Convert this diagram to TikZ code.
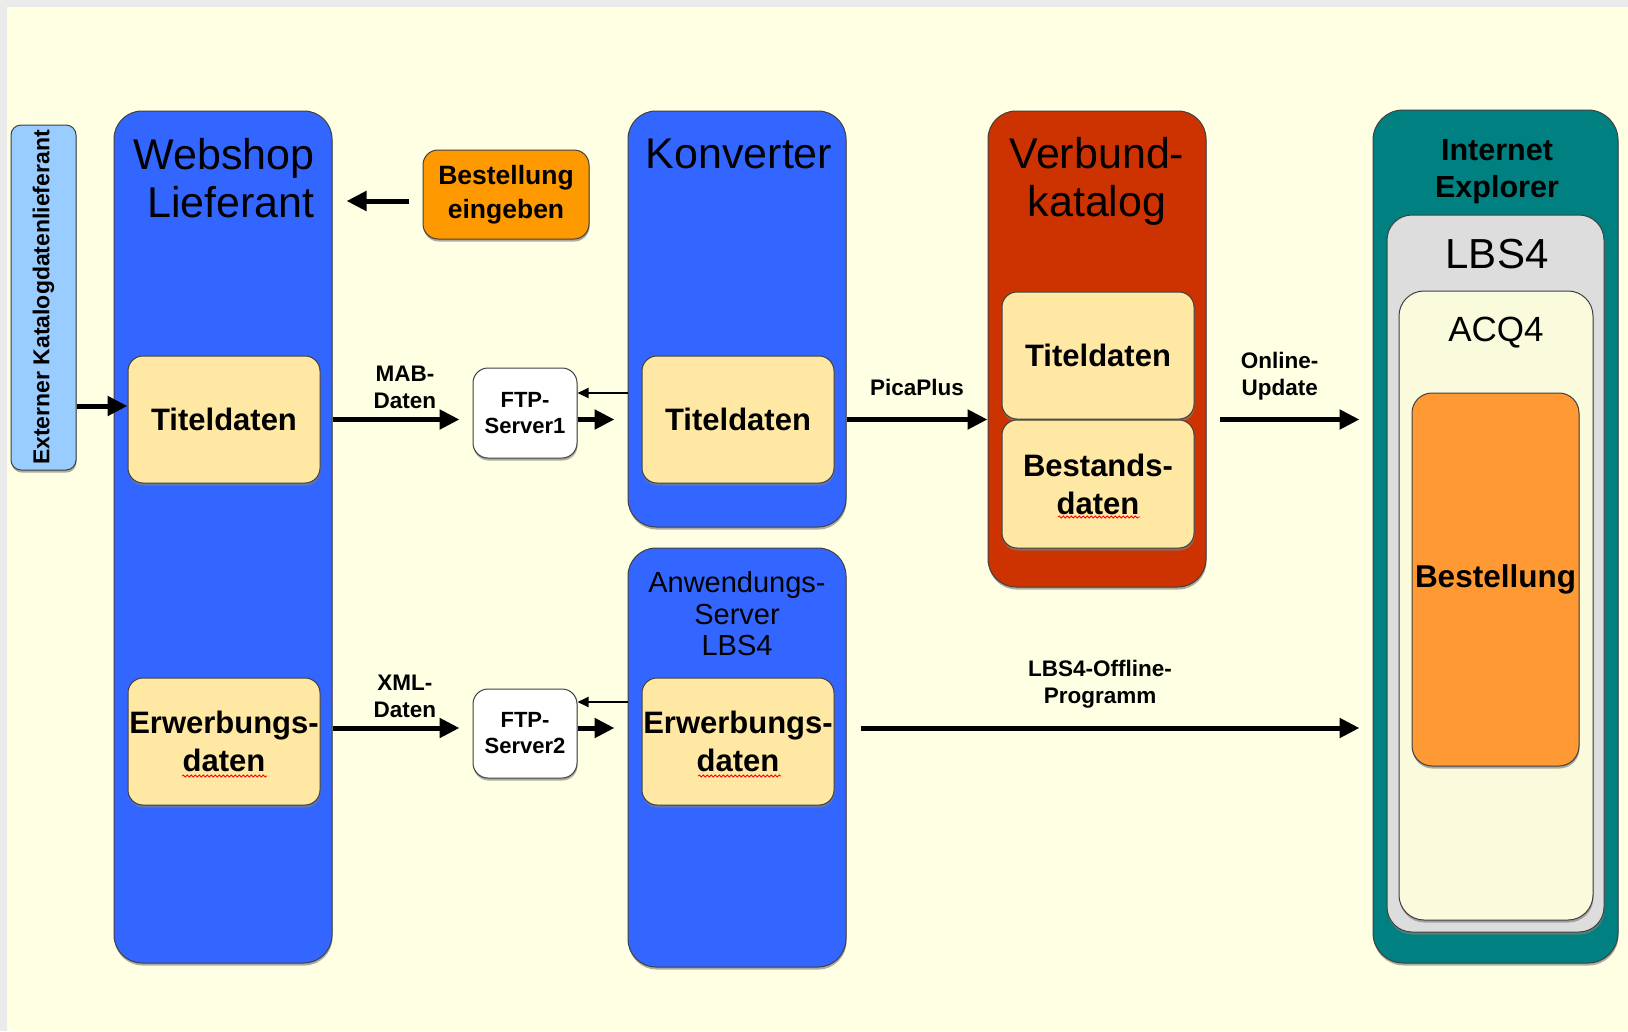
\documentclass[tikz,border=0pt]{standalone}
\usepackage{fontspec}
\setmainfont{Liberation Sans}
\usetikzlibrary{shapes}
\usetikzlibrary{arrows.meta}
\usetikzlibrary{shadows}
\usetikzlibrary{decorations.pathmorphing}

\definecolor{bgyellow}{HTML}{FFFFE3}
\definecolor{frame}{HTML}{EBEBEB}
\definecolor{shopblue}{HTML}{3366FF}
\definecolor{extblue}{HTML}{99CCFF}
\definecolor{databeige}{HTML}{FFE8A3}
\definecolor{ordergold}{HTML}{FF9900}
\definecolor{orderorange}{HTML}{FF9933}
\definecolor{unionred}{HTML}{CC3300}
\definecolor{ieteal}{HTML}{008080}
\definecolor{lbsgray}{HTML}{DDDDDD}
\definecolor{acqcream}{HTML}{FAFADC}

\begin{document}
\begin{tikzpicture}[x=1pt,y=-1pt]
			\tikzstyle{box}=[rectangle,draw=black!75,line width=1pt,inner sep=0pt,drop shadow={shadow xshift=.5pt,shadow yshift=-2.5pt,opacity=.65}]
			\tikzstyle{column}=[box,fill=shopblue,rounded corners=28pt,minimum width=218pt]
			\tikzstyle{datafield}=[box,fill=databeige,rounded corners=15pt,minimum width=192pt,minimum height=127pt,align=center,font=\fontsize{31}{38}\selectfont\bfseries]
			\tikzstyle{server}=[box,fill=white,rounded corners=15pt,minimum width=104pt,minimum height=90pt,align=center,font=\fontsize{22}{26}\selectfont\bfseries]
			\tikzstyle{heading}=[inner sep=0pt,align=center,font=\fontsize{43}{48}\selectfont]
			\tikzstyle{lbl}=[inner sep=0pt,align=center,font=\fontsize{22.5}{27}\selectfont\bfseries]
			\tikzstyle{fat}=[line width=5pt,-{Triangle[length=20pt,width=19pt]}]
			\tikzstyle{slim}=[line width=2pt,-{Triangle[length=11pt,width=10pt]}]
			\tikzstyle{typo}=[red,line width=.8pt,decorate,decoration={snake,amplitude=1pt,segment length=4pt}]

			\useasboundingbox (0,0) rectangle (1628,1031);
			\fill[frame] (0,0) rectangle (1628,1031);
			\fill[bgyellow] (7,7) rectangle (1628,1031);

			% left side
			\node[box,fill=extblue,rounded corners=10pt,minimum width=65pt,minimum height=345pt] (ext) at (43.5,297.5) {};
			\node[lbl,rotate=90,font=\fontsize{23}{26}\selectfont\bfseries] (exttext) at (ext.center) {Externer Katalogdatenlieferant};
			\node[column,minimum height=852pt] (webshop) at (223,537) {};
			\node[heading,align=right] (webshoptitle) at (224,178) {Webshop\\Lieferant};
			\node[datafield] (titel1) at (224,419.5) {Titeldaten};
			\node[datafield] (erw1) at (224,741.5) {Erwerbungs-\\daten};
			\node[box,fill=ordergold,rounded corners=15pt,minimum width=166pt,minimum height=89pt,align=center,font=\fontsize{26.5}{34}\selectfont\bfseries] (besteingabe) at (506,194.5) {Bestellung\\eingeben};

			% ftp servers
			\node[server] (ftp1) at (525,413) {FTP-\\Server1};
			\node[server,minimum height=89pt] (ftp2) at (525,733.5) {FTP-\\Server2};

			% converter and application server
			\node[column,minimum height=416pt] (konverter) at (737,319) {};
			\node[heading] (konvertertitle) at (739,154) {Konverter};
			\node[datafield] (titel2) at (738,419.5) {Titeldaten};
			\node[column,minimum height=419pt] (anwserver) at (737,757.5) {};
			\node[heading,font=\fontsize{29}{31.5}\selectfont] (anwtitle) at (737,614) {Anwendungs-\\Server\\LBS4};
			\node[datafield] (erw2) at (738,741.5) {Erwerbungs-\\daten};

			% union catalogue
			\node[column,fill=unionred,minimum height=476pt] (verbund) at (1097,349) {};
			\node[heading] (verbundtitle) at (1097,181) {Verbund-\\katalog};
			\node[datafield] (titel3) at (1098,355.5) {Titeldaten};
			\node[datafield,minimum height=128pt] (bestand) at (1098,484) {Bestands-\\daten};

			% browser
			\node[column,fill=ieteal,rounded corners=30pt,minimum width=245pt,minimum height=853pt] (ie) at (1495.5,536.5) {};
			\node[heading,font=\fontsize{30.5}{37}\selectfont\bfseries] (ietitle) at (1497,171.5) {Internet\\Explorer};
			\node[box,fill=lbsgray,rounded corners=25pt,minimum width=217pt,minimum height=717pt] (lbs) at (1495.5,573.5) {};
			\node[heading,font=\fontsize{42}{48}\selectfont] (lbstitle) at (1497,254) {LBS4};
			\node[box,fill=acqcream,rounded corners=25pt,minimum width=194pt,minimum height=629pt] (acq) at (1496,605.5) {};
			\node[heading,font=\fontsize{35}{40}\selectfont] (acqtitle) at (1496,333) {ACQ4};
			\node[box,fill=orderorange,rounded corners=20pt,minimum width=167pt,minimum height=373pt,font=\fontsize{31.5}{38}\selectfont\bfseries] (bestellung) at (1495.5,579.5) {Bestellung};

			% spelling marks
			\draw[typo] (182,776) -- (267,776);
			\draw[typo] (698,776) -- (781,776);
			\draw[typo] (1058,517) -- (1140,517);

			% connectors
			\draw[fat] ([yshift=13.5pt]ext.east |- titel1.west) -- ([yshift=13.5pt]titel1.west);
			\draw[fat] ([xshift=-14pt,yshift=-6.5pt]besteingabe.west) -- ([xshift=14pt,yshift=-6.5pt]webshop.east |- besteingabe.west);
			\draw[fat] (webshop.east |- titel1.east) -- ([xshift=-13pt]ftp1.west |- titel1.east) node[lbl,pos=.57,above=8pt] (mab) {MAB-\\Daten};
			\draw[slim] ([yshift=20pt]konverter.west |- ftp1.east) -- ([yshift=20pt]ftp1.east);
			\draw[fat] (ftp1.east |- titel2.west) -- ([xshift=-13pt]konverter.west |- titel2.west);
			\draw[fat] (konverter.east |- titel2.east) -- (verbund.west |- titel2.east) node[lbl,midway,above=21pt] (pica) {PicaPlus};
			\draw[fat] ([xshift=13pt]verbund.east |- titel2.east) -- ([xshift=-13pt]ie.west |- titel2.east) node[lbl,pos=.43,above=17pt] (online) {Online-\\Update};
			\draw[fat] ([yshift=13.5pt]webshop.east |- erw1.east) -- ([yshift=13.5pt,xshift=-13pt]ftp2.west |- erw1.east) node[lbl,pos=.57,above=8pt] (xml) {XML-\\Daten};
			\draw[slim] ([yshift=31.5pt]anwserver.west |- ftp2.east) -- ([yshift=31.5pt]ftp2.east);
			\draw[fat] ([yshift=13.5pt]ftp2.east |- erw2.west) -- ([yshift=13.5pt,xshift=-13pt]anwserver.west |- erw2.west);
			\draw[fat] ([yshift=13.5pt,xshift=14pt]anwserver.east |- erw2.east) -- ([yshift=13.5pt,xshift=-13pt]ie.west |- erw2.east) node[lbl,pos=.48,above=17pt] (offline) {LBS4-Offline-\\Programm};
\end{tikzpicture}
\end{document}
